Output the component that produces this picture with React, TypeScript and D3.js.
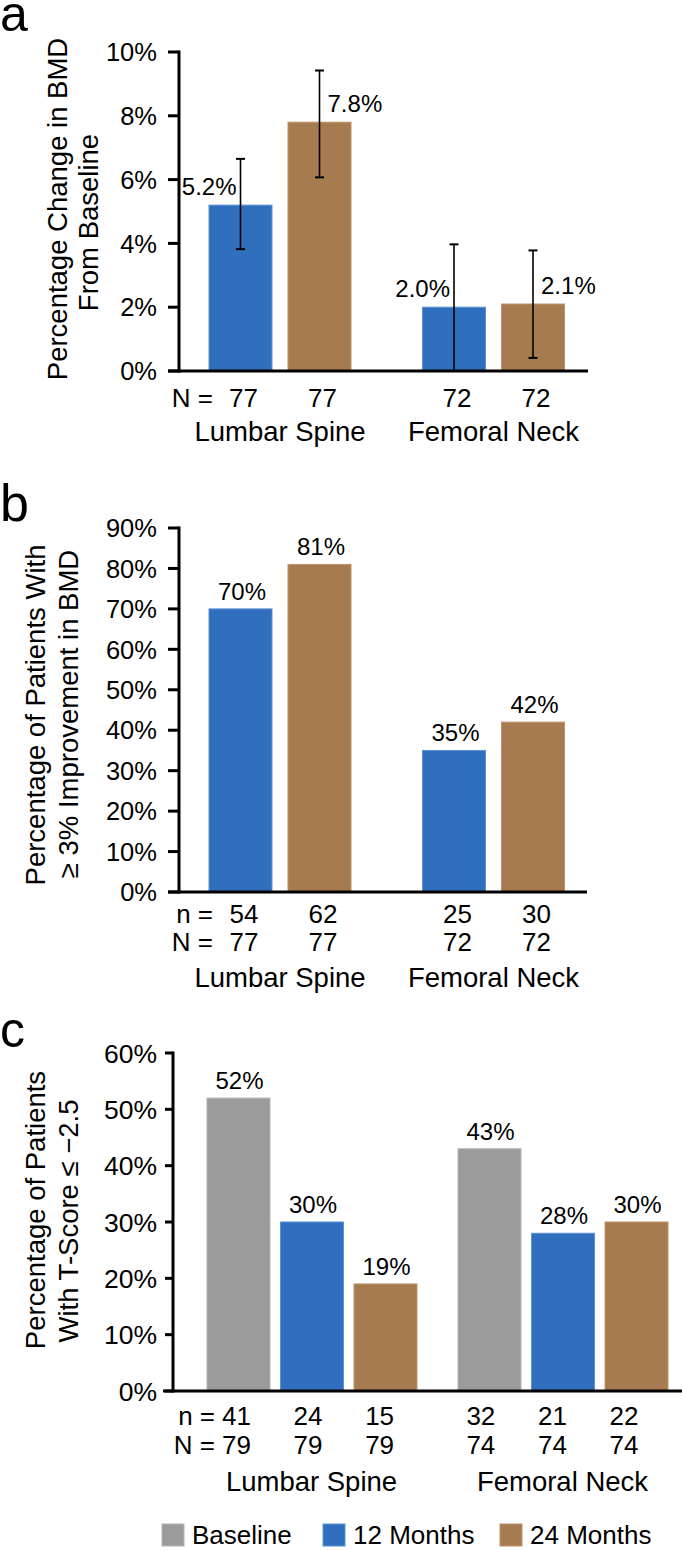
import React from "react";
import * as d3 from "d3";

// ---------- DATA ----------
const categories = ["Lumbar Spine", "Femoral Neck"];
const seriesAB = ["12 Months", "24 Months"];
const seriesC = ["Baseline", "12 Months", "24 Months"];

// Panel a: percentage change in BMD from baseline
const aMean12 = [5.2, 2.0];
const aMean24 = [7.8, 2.1];
const aLow12 = [3.82, 0.0];
const aHigh12 = [6.65, 3.97];
const aLow24 = [6.07, 0.41];
const aHigh24 = [9.42, 3.78];
const aN12 = [77, 72];
const aN24 = [77, 72];
const aTicks = [0, 2, 4, 6, 8, 10];

// Panel b: % patients with >= 3% improvement
const bPct12 = [70, 35];
const bPct24 = [81, 42];
const bn12 = [54, 25];
const bn24 = [62, 30];
const bN12 = [77, 72];
const bN24 = [77, 72];
const bTicks = [0, 10, 20, 30, 40, 50, 60, 70, 80, 90];

// Panel c: % patients with T-score <= -2.5
const cPctBase = [52, 43];
const cPct12 = [30, 28];
const cPct24 = [19, 30];
const cnBase = [41, 32];
const cn12 = [24, 21];
const cn24 = [15, 22];
const cNBase = [79, 74];
const cN12 = [79, 74];
const cN24 = [79, 74];
const cTicks = [0, 10, 20, 30, 40, 50, 60];

// ---------- STYLE ----------
const FONT = "'Liberation Sans', Arial, Helvetica, sans-serif";
const COLORS: Record<string, string> = {
  Baseline: "#9b9b9b",
  "12 Months": "#2f6fbd",
  "24 Months": "#a67b4f",
};
const EDGE: Record<string, string> = {
  Baseline: "#b4b4b4",
  "12 Months": "#5d93d3",
  "24 Months": "#bf9368",
};

function YAxis({ y, x, tickLen, ticks, fontSize, labelX }: any) {
  const [y0, y1] = y.range();
  return (
    <g>
      <line x1={x} x2={x} y1={y0 + 1.5} y2={y1 - 1.5} stroke="#000" strokeWidth={3} />
      {ticks.map((t: number) => (
        <g key={t}>
          <line x1={x - tickLen} x2={x} y1={y(t)} y2={y(t)} stroke="#000" strokeWidth={3} />
          <text x={labelX} y={y(t)} dy="0.36em" textAnchor="end" fontSize={fontSize}>
            {t}%
          </text>
        </g>
      ))}
    </g>
  );
}

function RotTitle({ x, y, text, size }: any) {
  return (
    <text transform={`translate(${x},${y}) rotate(-90)`} textAnchor="middle" fontSize={size}>
      {text}
    </text>
  );
}

export default function App() {
  // ---------- Panel a ----------
  const yA = d3.scaleLinear().domain([0, 10]).range([371, 52]);
  const gA = d3.scaleBand().domain(categories).range([173.25, 600.25]);
  const iA = d3.scaleBand().domain(seriesAB).range([35.75, 177.75]).paddingInner(16 / 79);
  const aData = [
    { s: "12 Months", mean: aMean12, low: aLow12, high: aHigh12, N: aN12 },
    { s: "24 Months", mean: aMean24, low: aLow24, high: aHigh24, N: aN24 },
  ];

  // ---------- Panel b ----------
  const yB = d3.scaleLinear().domain([0, 90]).range([892, 528]);
  const gB = gA;
  const iB = iA;
  const bData = [
    { s: "12 Months", v: bPct12, n: bn12, N: bN12 },
    { s: "24 Months", v: bPct24, n: bn24, N: bN24 },
  ];

  // ---------- Panel c ----------
  const yC = d3.scaleLinear().domain([0, 60]).range([1391, 1053]);
  const gC = d3.scaleBand().domain(categories).range([186, 688]);
  const iC = d3.scaleBand().domain(seriesC).range([21, 231]).paddingInner(10.5 / 73.5);
  const cData = [
    { s: "Baseline", v: cPctBase, n: cnBase, N: cNBase },
    { s: "12 Months", v: cPct12, n: cn12, N: cN12 },
    { s: "24 Months", v: cPct24, n: cn24, N: cN24 },
  ];
  // the n/N table under panel c is spaced slightly tighter than the bars
  const cLabel = d3.scaleLinear().domain([238.5, 636.5]).range([236.5, 624]);

  const fmt1 = d3.format(".1f");
  const cx = (g: any, i: any, cat: string, s: string) =>
    (g(cat) as number) + (i(s) as number) + i.bandwidth() / 2;

  return (
    <svg
      width={685}
      height={1550}
      style={{ position: "absolute", left: 0, top: 0, background: "#fff" }}
      fontFamily={FONT}
      fill="#000"
    >
      {/* ================= PANEL a ================= */}
      <text x={0} y={31} fontSize={50}>a</text>
      <RotTitle x={67} y={209} text="Percentage Change in BMD" size={27.5} />
      <RotTitle x={98} y={222.5} text="From Baseline" size={27.5} />
      {aData.map((d) =>
        categories.map((cat, k) => {
          const x = (gA(cat) as number) + (iA(d.s) as number);
          const w = iA.bandwidth();
          return (
            <g key={d.s + cat}>
              <rect x={x} y={yA(d.mean[k])} width={w} height={yA(0) - yA(d.mean[k])}
                fill={COLORS[d.s]} stroke={EDGE[d.s]} strokeWidth={1} />
            </g>
          );
        })
      )}
      <YAxis y={yA} x={179} tickLen={11} ticks={aTicks} fontSize={25.5} labelX={157} />
      <line x1={168} x2={588} y1={yA(0)} y2={yA(0)} stroke="#000" strokeWidth={3} />
      {aData.map((d, si) =>
        categories.map((cat, k) => {
          const c = cx(gA, iA, cat, d.s);
          const yt = yA(d.high[k]);
          const yb = yA(d.low[k]);
          return (
            <g key={"e" + d.s + cat}>
              <line x1={c} x2={c} y1={yt} y2={yb} stroke="#000" strokeWidth={1.6} />
              <line x1={c - 4.5} x2={c + 4.5} y1={yt} y2={yt} stroke="#000" strokeWidth={2} />
              <line x1={c - 4.5} x2={c + 4.5} y1={yb} y2={yb} stroke="#000" strokeWidth={2} />
              <text
                x={si === 0 ? c - 4 : c + 8}
                y={yA(d.mean[k]) - 10}
                textAnchor={si === 0 ? "end" : "start"}
                fontSize={24}
              >
                {fmt1(d.mean[k])}%
              </text>
              <text x={c + 3} y={407} textAnchor="middle" fontSize={26}>{d.N[k]}</text>
            </g>
          );
        })
      )}
      <text x={213} y={407} textAnchor="end" fontSize={26}>N =</text>
      {categories.map((cat) => (
        <text key={"ca" + cat} x={(gA(cat) as number) + gA.bandwidth() / 2} y={441}
          textAnchor="middle" fontSize={27.5}>{cat}</text>
      ))}

      {/* ================= PANEL b ================= */}
      <text x={0} y={521} fontSize={52}>b</text>
      <RotTitle x={45} y={715} text="Percentage of Patients With" size={27.5} />
      <RotTitle x={78} y={714} text="≥ 3% Improvement in BMD" size={27.5} />
      {bData.map((d) =>
        categories.map((cat, k) => {
          const x = (gB(cat) as number) + (iB(d.s) as number);
          const w = iB.bandwidth();
          const c = x + w / 2;
          return (
            <g key={"b" + d.s + cat}>
              <rect x={x} y={yB(d.v[k])} width={w} height={yB(0) - yB(d.v[k])}
                fill={COLORS[d.s]} stroke={EDGE[d.s]} strokeWidth={1} />
              <text x={c + 1.5} y={yB(d.v[k]) - 9} textAnchor="middle" fontSize={24}>{d.v[k]}%</text>
              <text x={c + 3.5} y={923} textAnchor="middle" fontSize={26}>{d.n[k]}</text>
              <text x={c + 3.5} y={951} textAnchor="middle" fontSize={26}>{d.N[k]}</text>
            </g>
          );
        })
      )}
      <YAxis y={yB} x={179} tickLen={11} ticks={bTicks} fontSize={25.5} labelX={157} />
      <line x1={168} x2={587} y1={yB(0)} y2={yB(0)} stroke="#000" strokeWidth={3} />
      <text x={213} y={923} textAnchor="end" fontSize={26}>n =</text>
      <text x={213} y={951} textAnchor="end" fontSize={26}>N =</text>
      {categories.map((cat) => (
        <text key={"cb" + cat} x={(gB(cat) as number) + gB.bandwidth() / 2} y={987}
          textAnchor="middle" fontSize={27.5}>{cat}</text>
      ))}

      {/* ================= PANEL c ================= */}
      <text x={0} y={1047} fontSize={50}>c</text>
      <RotTitle x={45} y={1210} text="Percentage of Patients" size={27.5} />
      <RotTitle x={78} y={1221} text="With T-Score ≤ −2.5" size={27.5} />
      {cData.map((d) =>
        categories.map((cat, k) => {
          const x = (gC(cat) as number) + (iC(d.s) as number);
          const w = iC.bandwidth();
          const c = x + w / 2;
          const lx = cLabel(c);
          return (
            <g key={"c" + d.s + cat}>
              <rect x={x} y={yC(d.v[k])} width={w} height={yC(0) - yC(d.v[k])}
                fill={COLORS[d.s]} stroke={EDGE[d.s]} strokeWidth={1} />
              <text x={c + 1} y={yC(d.v[k]) - 9} textAnchor="middle" fontSize={24}>{d.v[k]}%</text>
              <text x={lx} y={1425} textAnchor="middle" fontSize={26}>{d.n[k]}</text>
              <text x={lx} y={1454} textAnchor="middle" fontSize={26}>{d.N[k]}</text>
            </g>
          );
        })
      )}
      <YAxis y={yC} x={173} tickLen={8} ticks={cTicks} fontSize={26.5} labelX={157} />
      <line x1={163} x2={682} y1={yC(0)} y2={yC(0)} stroke="#000" strokeWidth={3} />
      <text x={215} y={1425} textAnchor="end" fontSize={26}>n =</text>
      <text x={215} y={1454} textAnchor="end" fontSize={26}>N =</text>
      {categories.map((cat) => (
        <text key={"cc" + cat} x={(gC(cat) as number) + gC.bandwidth() / 2} y={1491}
          textAnchor="middle" fontSize={27.5}>{cat}</text>
      ))}

      {/* ================= LEGEND ================= */}
      {seriesC.map((s, i) => {
        const lx = [162, 323, 500][i];
        return (
          <g key={"lg" + s}>
            <rect x={lx} y={1524} width={22} height={22} fill={COLORS[s]} stroke={EDGE[s]} strokeWidth={1} />
            <text x={lx + 30} y={1544} fontSize={26}>{s}</text>
          </g>
        );
      })}
    </svg>
  );
}
